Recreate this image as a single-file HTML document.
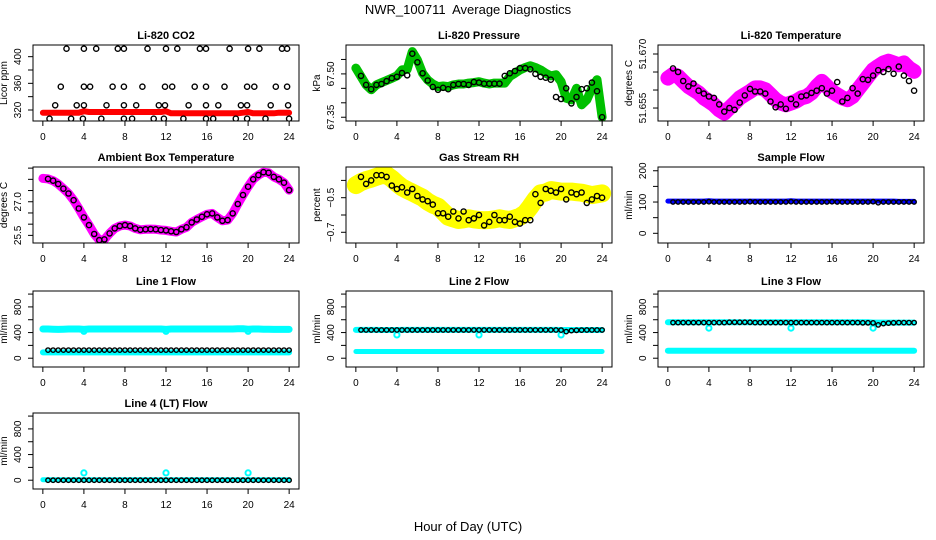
<!DOCTYPE html>
<html><head><meta charset="utf-8">
<style>
html,body{margin:0;padding:0;background:#fff;}
svg{display:block;font-family:"Liberation Sans",Arial,sans-serif;}
</style></head>
<body>
<svg id="chart" width="936" height="540" viewBox="0 0 936 540" xmlns="http://www.w3.org/2000/svg">
<text x="468" y="14" text-anchor="middle" font-size="13">NWR_100711&#160; Average Diagnostics</text>
<text x="468" y="531" text-anchor="middle" font-size="13">Hour of Day (UTC)</text>
</svg>
<script>
const hours = [0,0.5,1,1.5,2,2.5,3,3.5,4,4.5,5,5.5,6,6.5,7,7.5,8,8.5,9,9.5,10,10.5,11,11.5,12,12.5,13,13.5,14,14.5,15,15.5,16,16.5,17,17.5,18,18.5,19,19.5,20,20.5,21,21.5,22,22.5,23,23.5,24];
const blackHours = [0.5,1,1.5,2,2.5,3,3.5,4,4.5,5,5.5,6,6.5,7,7.5,8,8.5,9,9.5,10,10.5,11,11.5,12,12.5,13,13.5,14,14.5,15,15.5,16,16.5,17,17.5,18,18.5,19,19.5,20,20.5,21,21.5,22,22.5,23,23.5,24];
const xTicks = [0,4,8,12,16,20,24];
const dipHours = [4,12,20];

// CO2
const co2Red = [316,316,316,316,316,316,316,316,318,317,317,317,317,317,317,317,317,317,317,317,317,317,317,317,318,315,315,315,315,315,315,315,315,315,315,315,315,315,315,316,317,315,315,315,315,315,316,316,316];
const co2Hours = [2.3,4.0,5.2,7.3,7.9,10.2,12,13.1,15.3,15.9,18.2,20,21.1,23.3,23.8, 1.75,4,4.6,6.8,7.9,9.7,11.9,12.6,14.8,15.9,17.7,19.9,20.6,22.7,23.8, 1.2,3.3,4,6.2,7.9,9.1,11.3,11.9,14.2,15.9,17.1,19.3,19.9,22.2,23.9, 0.65,2.75,3.9,5.7,7.9,8.7,10.8,11.8,13.7,15.9,16.6,18.8,19.9,21.7,24];
const co2Values = [412,412,412,412,412,412,412,412,412,412,412,412,412,412,412, 355,355,355,355,355,355,355,355,355,355,355,355,355,355,355, 327,327,327,327,327,327,327,327,327,327,327,327,327,327,327, 307,307,307,307,307,307,307,307,307,307,307,307,307,307,307];

// Pressure
const presGreen = [67.520,67.491,67.462,67.445,67.462,67.470,67.477,67.485,67.493,67.514,67.516,67.577,67.548,67.502,67.479,67.465,67.456,67.458,67.456,67.462,67.465,67.465,67.468,67.470,67.473,67.468,67.465,67.468,67.468,67.468,67.491,67.502,67.514,67.522,67.528,67.522,67.514,67.502,67.493,67.497,67.473,67.416,67.410,67.450,67.393,67.410,67.450,67.480,67.350];
const presBlack = [67.493,67.462,67.447,67.462,67.465,67.475,67.485,67.490,67.503,67.495,67.570,67.540,67.502,67.477,67.455,67.445,67.452,67.447,67.462,67.465,67.465,67.462,67.472,67.470,67.466,67.466,67.466,67.466,67.493,67.502,67.510,67.520,67.520,67.516,67.500,67.490,67.487,67.480,67.420,67.413,67.450,67.398,67.420,67.447,67.450,67.470,67.440,67.350];

// Li-820 temperature
const tempMag = [51.6633,51.6643,51.6638,51.6624,51.6610,51.6601,51.6592,51.6578,51.6569,51.6559,51.6545,51.6536,51.6550,51.6564,51.6578,51.6587,51.6596,51.6606,51.6606,51.6601,51.6587,51.6573,51.6564,51.6559,51.6564,51.6569,51.6578,51.6582,51.6592,51.6610,51.6624,51.6610,51.6596,51.6587,51.6578,51.6573,51.6582,51.6601,51.6619,51.6638,51.6656,51.6666,51.6675,51.6680,51.6675,51.6670,51.6675,51.6661,51.6652];
const tempBlack = [51.6660,51.6650,51.6625,51.6610,51.6618,51.6598,51.6590,51.6582,51.6578,51.6560,51.6540,51.6550,51.6545,51.6565,51.6585,51.6603,51.6596,51.6596,51.6590,51.6568,51.6552,51.6560,51.6548,51.6575,51.6560,51.6582,51.6585,51.6592,51.6598,51.6605,51.6590,51.6598,51.6622,51.6568,51.6578,51.6605,51.6590,51.6630,51.6628,51.6640,51.6655,51.6650,51.6658,51.6645,51.6665,51.6640,51.6625,51.6598];

// Ambient box temperature
const ambMag = [28.04,28.02,27.94,27.79,27.58,27.37,27.07,26.70,26.30,25.96,25.56,25.29,25.32,25.59,25.81,25.92,25.96,25.92,25.81,25.75,25.77,25.78,25.77,25.74,25.72,25.68,25.65,25.77,25.86,26.08,26.21,26.33,26.44,26.48,26.30,26.15,26.18,26.48,26.90,27.30,27.67,28.00,28.19,28.32,28.29,28.11,28.00,27.85,27.52];
const ambBlack = [28.02,27.94,27.79,27.58,27.37,27.07,26.70,26.30,25.96,25.56,25.29,25.32,25.59,25.81,25.92,25.96,25.92,25.81,25.75,25.77,25.78,25.77,25.74,25.72,25.68,25.65,25.77,25.86,26.08,26.21,26.33,26.44,26.48,26.30,26.15,26.18,26.48,26.90,27.30,27.67,28.00,28.19,28.32,28.29,28.11,28.00,27.85,27.52];

// Gas stream RH
const rhYellow = [-0.427,-0.41,-0.398,-0.39,-0.379,-0.37,-0.369,-0.39,-0.417,-0.44,-0.456,-0.47,-0.485,-0.50,-0.523,-0.54,-0.552,-0.58,-0.610,-0.62,-0.629,-0.625,-0.619,-0.625,-0.629,-0.63,-0.629,-0.625,-0.619,-0.625,-0.629,-0.62,-0.610,-0.59,-0.552,-0.51,-0.475,-0.47,-0.456,-0.46,-0.465,-0.465,-0.465,-0.468,-0.471,-0.478,-0.485,-0.48,-0.475];
const rhBlack = [-0.38,-0.42,-0.40,-0.37,-0.37,-0.38,-0.43,-0.45,-0.44,-0.47,-0.45,-0.49,-0.51,-0.52,-0.54,-0.59,-0.59,-0.61,-0.58,-0.62,-0.58,-0.63,-0.62,-0.60,-0.66,-0.64,-0.60,-0.63,-0.63,-0.61,-0.64,-0.65,-0.63,-0.63,-0.48,-0.53,-0.45,-0.46,-0.47,-0.45,-0.51,-0.47,-0.48,-0.47,-0.53,-0.51,-0.49,-0.50];

// Sample flow
const sampleBlue = [103,103,103,103,103,103,103,103,104,103,103,103,103,103,103,103,103,103,103,103,103,103,103,103,104,103,103,103,103,103,103,103,103,103,103,103,103,103,103,103,103,103,103,103,103,102,102,102,102];
const sampleBlack = [100,100,100,100,100,100,100,101,100,100,100,100,100,100,100,101,100,100,100,100,100,100,100,101,100,100,100,100,100,100,100,101,100,100,100,100,100,100,100,101,98,100,100,100,100,100,100,100];

// Line flows
const line1Upper = [455,455,452,450,452,455,455,455,450,455,455,455,455,455,455,455,455,455,455,455,455,455,455,455,450,455,455,455,455,455,455,455,455,455,455,455,455,455,458,458,452,455,455,452,452,450,450,450,450];
const line1Lower = [90,90,90,90,90,90,90,90,90,90,90,90,90,90,90,90,90,90,90,90,90,90,90,90,90,90,90,90,90,90,90,90,90,90,90,90,90,90,90,90,90,90,90,90,90,90,90,90,90];
const line1Black = [126,126,126,126,126,126,126,126,126,126,126,126,126,126,126,126,126,126,126,126,126,126,126,126,126,126,126,126,126,126,126,126,126,126,126,126,126,126,126,126,126,126,126,126,126,126,126,126];
const line1Dips = [420,420,420];
const line2Upper = [442,442,442,442,442,440,440,440,440,442,442,442,442,442,442,442,442,442,442,442,442,442,442,442,442,442,442,442,442,442,442,442,442,442,442,442,442,442,442,442,440,440,440,440,440,440,440,440,440];
const line2Lower = [105,105,105,105,105,105,105,105,105,105,105,105,105,105,105,105,105,105,105,105,105,105,105,105,105,105,105,105,105,105,105,105,105,105,105,105,105,105,105,105,105,105,105,105,105,105,105,105,105];
const line2Black = [440,440,440,440,440,440,440,440,440,440,440,440,440,440,440,440,440,440,440,440,440,440,440,440,440,440,440,440,440,440,440,440,440,440,440,440,440,440,440,438,415,430,435,438,440,440,440,440];
const line2Dips = [364,364,364];
const line3Upper = [560,560,560,560,560,560,560,560,560,560,560,560,560,560,560,560,560,560,560,560,560,560,560,560,560,560,560,560,560,560,560,560,560,560,560,560,560,560,560,560,556,556,556,556,556,556,556,556,556];
const line3Lower = [116,116,116,116,116,116,116,116,116,116,116,116,116,116,116,116,116,116,116,116,116,116,116,116,116,116,116,116,116,116,116,116,116,116,116,116,116,116,116,116,116,116,116,116,116,116,116,116,116];
const line3Black = [556,556,556,556,556,556,556,556,556,556,556,560,560,560,560,560,556,556,556,556,556,556,556,556,556,556,556,556,556,556,556,556,556,556,556,556,556,552,552,550,520,540,548,552,556,556,556,556];
const line3Dips = [470,470,470];
const line4Cyan = [8,8,8,8,8,8,8,8,8,8,8,8,8,8,8,8,8,8,8,8,8,8,8,8,8,8,8,8,8,8,8,8,8,8,8,8,8,8,8,8,8,8,8,8,8,8,8,8,8];
const line4Black = [0,0,0,0,0,0,0,0,0,0,0,0,0,0,0,0,0,0,0,0,0,0,0,0,0,0,0,0,0,0,0,0,0,0,0,0,0,0,0,0,0,0,0,0,0,0,0,0];
const line4Dips = [114,114,114];

const NS = 'http://www.w3.org/2000/svg';
const svg = document.getElementById('chart');
const colL = [33,346,658], rowT = [45,167,291,413], W = 266, H = 76;
function mk(tag, attrs, parent){ const e=document.createElementNS(NS,tag); for(const k in attrs) e.setAttribute(k,attrs[k]); (parent||svg).appendChild(e); return e; }

function panel(cfg){
  const L = colL[cfg.col], T = rowT[cfg.row];
  const g = mk('g',{});
  
  
  const xs = h => L + (h + 0.96) * W / 25.92;
  const ys = v => T + H - (v - cfg.ylim[0]) / (cfg.ylim[1] - cfg.ylim[0]) * H;
  const clip = 'clip-' + cfg.name;
  const cp = mk('clipPath',{id:clip}, g); mk('rect',{x:L,y:T,width:W,height:H},cp);
  const plot = mk('g',{'clip-path':'url(#'+clip+')'}, g);
  cfg.series.forEach(s => {
    const n = Math.min(s.x.length, s.y.length);
    if (s.type === 'band') {
      let pts = [];
      for (let i=0;i<n;i++) pts.push(xs(s.x[i]).toFixed(1)+','+ys(s.y[i]).toFixed(1));
      const pl = mk('polyline',{points:pts.join(' '),fill:'none',stroke:s.color,'stroke-width':s.w,'stroke-linejoin':'round','stroke-linecap':'round'}, plot);
      
      
    } else {
      const sg = mk('g',{}, plot);
      
      
      for (let i=0;i<n;i++){
        const c = mk('circle',{cx:xs(s.x[i]).toFixed(1),cy:ys(s.y[i]).toFixed(1),r:s.r||2.6,fill:'none',stroke:s.color,'stroke-width':s.sw||1.4}, sg);
        
        
      }
    }
  });
  const box = mk('rect',{x:L,y:T,width:W,height:H,fill:'none',stroke:'#000','stroke-width':1}, g);
  
  
  const t = mk('text',{x:L+W/2,y:T-6,'text-anchor':'middle','font-size':11,'font-weight':'bold'}, g);
  t.textContent = cfg.title;
  
  
  xTicks.forEach(h => {
    mk('line',{x1:xs(h),x2:xs(h),y1:T+H,y2:T+H+5,stroke:'#000'}, g);
    const tl = mk('text',{x:xs(h),y:T+H+19,'text-anchor':'middle','font-size':10}, g);
    tl.textContent = h;
    
    
  });
  cfg.yticks.forEach(v => {
    const y = ys(v);
    mk('line',{x1:L-5,x2:L,y1:y,y2:y,stroke:'#000'}, g);
  });
  cfg.ylabels.forEach(v => {
    const y = ys(v), x = L-12;
    const tl = mk('text',{x:x,y:y,'text-anchor':'middle','font-size':10,transform:'rotate(-90 '+x+' '+y+')'}, g);
    tl.textContent = cfg.fmt ? cfg.fmt(v) : v;
    
    
  });
  const yx = L-26, yy = T+H/2;
  const yt = mk('text',{x:yx,y:yy,'text-anchor':'middle','font-size':10,transform:'rotate(-90 '+yx+' '+yy+')'}, g);
  yt.textContent = cfg.ylab;
  
  
}

const flowTicks=[0,200,400,600,800,1000], flowLabels=[0,400,800], flowLim=[-137,1048];
panel({name:'co2-panel',col:0,row:0,title:'Li-820 CO2',ylab:'Licor ppm',ylim:[303.5,417.5],yticks:[320,340,360,380,400],ylabels:[320,360,400],
  series:[{type:'band',name:'co2-red-series',x:hours,y:co2Red,color:'#ff0000',w:6},{type:'pts',name:'co2-black-series',x:co2Hours,y:co2Values,color:'#000'}]});
panel({name:'pressure-panel',col:1,row:0,title:'Li-820 Pressure',ylab:'kPa',ylim:[67.337,67.600],yticks:[67.35,67.40,67.45,67.50,67.55],ylabels:[67.35,67.50],fmt:v=>v.toFixed(2),
  series:[{type:'band',name:'pressure-green-series',x:hours,y:presGreen,color:'#00c000',w:9},{type:'pts',name:'pressure-black-series',x:blackHours,y:presBlack,color:'#000'}]});
panel({name:'temperature-panel',col:2,row:0,title:'Li-820 Temperature',ylab:'degrees C',ylim:[51.6514,51.6725],yticks:[51.655,51.660,51.665,51.670],ylabels:[51.655,51.670],fmt:v=>v.toFixed(3),
  series:[{type:'band',name:'temperature-magenta-series',x:hours,y:tempMag,color:'#ff00ff',w:15},{type:'pts',name:'temperature-black-series',x:blackHours,y:tempBlack,color:'#000'}]});
panel({name:'ambient-panel',col:0,row:1,title:'Ambient Box Temperature',ylab:'degrees C',ylim:[25.16,28.55],yticks:[25.5,26.0,26.5,27.0,27.5,28.0,28.5],ylabels:[25.5,27.0],fmt:v=>v.toFixed(1),
  series:[{type:'band',name:'ambient-magenta-series',x:hours,y:ambMag,color:'#ff00ff',w:9},{type:'pts',name:'ambient-black-series',x:blackHours,y:ambBlack,color:'#000'}]});
panel({name:'rh-panel',col:1,row:1,title:'Gas Stream RH',ylab:'percent',ylim:[-0.762,-0.3225],yticks:[-0.7,-0.6,-0.5,-0.4],ylabels:[-0.7,-0.5],fmt:v=>'\u2212'+Math.abs(v).toFixed(1),
  series:[{type:'band',name:'rh-yellow-series',x:hours,y:rhYellow,color:'#ffff00',w:18},{type:'pts',name:'rh-black-series',x:blackHours,y:rhBlack,color:'#000'}]});
panel({name:'sample-flow-panel',col:2,row:1,title:'Sample Flow',ylab:'ml/min',ylim:[-31,212],yticks:[0,50,100,150,200],ylabels:[0,100,200],
  series:[{type:'band',name:'sample-blue-series',x:hours,y:sampleBlue,color:'#0000ff',w:5},{type:'pts',name:'sample-black-series',x:blackHours,y:sampleBlack,color:'#000',r:2.2}]});
panel({name:'line1-panel',col:0,row:2,title:'Line 1 Flow',ylab:'ml/min',ylim:flowLim,yticks:flowTicks,ylabels:flowLabels,
  series:[{type:'band',name:'line1-cyan-upper',x:hours,y:line1Upper,color:'#00ffff',w:7},{type:'band',name:'line1-cyan-lower',x:hours,y:line1Lower,color:'#00ffff',w:6},{type:'pts',name:'line1-cyan-dips',x:dipHours,y:line1Dips,color:'#00ffff',sw:2},{type:'pts',name:'line1-black-series',x:blackHours,y:line1Black,color:'#000',r:2.2}]});
panel({name:'line2-panel',col:1,row:2,title:'Line 2 Flow',ylab:'ml/min',ylim:flowLim,yticks:flowTicks,ylabels:flowLabels,
  series:[{type:'band',name:'line2-cyan-upper',x:hours,y:line2Upper,color:'#00ffff',w:6},{type:'band',name:'line2-cyan-lower',x:hours,y:line2Lower,color:'#00ffff',w:5},{type:'pts',name:'line2-cyan-dips',x:dipHours,y:line2Dips,color:'#00ffff',sw:2},{type:'pts',name:'line2-black-series',x:blackHours,y:line2Black,color:'#000',r:2.2}]});
panel({name:'line3-panel',col:2,row:2,title:'Line 3 Flow',ylab:'ml/min',ylim:flowLim,yticks:flowTicks,ylabels:flowLabels,
  series:[{type:'band',name:'line3-cyan-upper',x:hours,y:line3Upper,color:'#00ffff',w:6},{type:'band',name:'line3-cyan-lower',x:hours,y:line3Lower,color:'#00ffff',w:6},{type:'pts',name:'line3-cyan-dips',x:dipHours,y:line3Dips,color:'#00ffff',sw:2},{type:'pts',name:'line3-black-series',x:blackHours,y:line3Black,color:'#000',r:2.2}]});
panel({name:'line4-panel',col:0,row:3,title:'Line 4 (LT) Flow',ylab:'ml/min',ylim:flowLim,yticks:flowTicks,ylabels:flowLabels,
  series:[{type:'band',name:'line4-cyan-series',x:hours,y:line4Cyan,color:'#00ffff',w:5},{type:'pts',name:'line4-cyan-dips',x:dipHours,y:line4Dips,color:'#00ffff',sw:2},{type:'pts',name:'line4-black-series',x:blackHours,y:line4Black,color:'#000',r:2.2}]});
</script>
</body></html>
